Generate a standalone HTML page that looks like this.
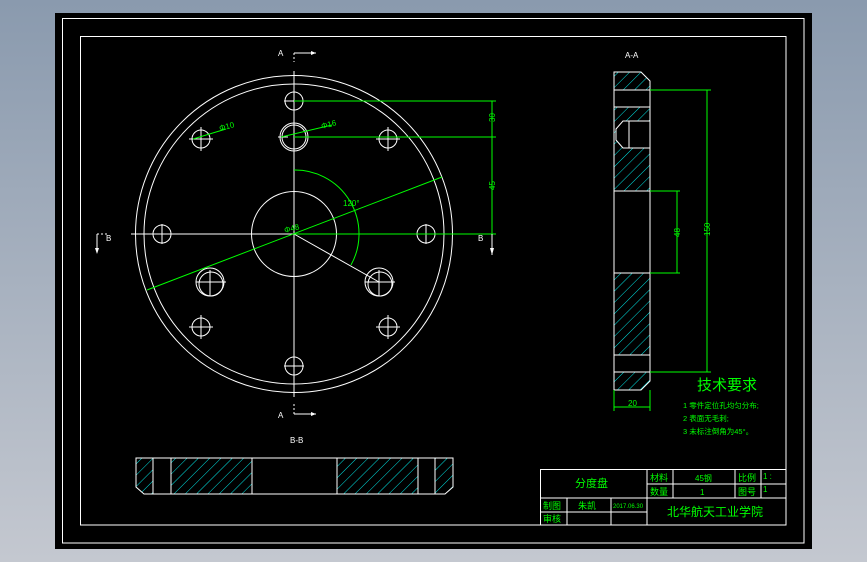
<!DOCTYPE html>
<html><head><meta charset="utf-8"><style>
html,body{margin:0;padding:0;width:867px;height:562px;overflow:hidden;background:linear-gradient(#8a9aae,#c4c8d0);}
svg{position:absolute;left:0;top:0}
text{font-family:"Liberation Sans","Noto Sans CJK SC",sans-serif;fill:#00ff00}
</style></head><body>
<svg width="867" height="562" viewBox="0 0 867 562">
<defs>
<pattern id="h" patternUnits="userSpaceOnUse" width="8" height="8" patternTransform="rotate(45)">
<rect width="8" height="8" fill="#000"/><line x1="0" y1="0" x2="0" y2="8" stroke="#00e5e5" stroke-width="1"/>
</pattern>
</defs>
<rect x="55" y="13" width="757" height="536" fill="#000"/>
<rect x="62.5" y="18.5" width="741.5" height="524.5" fill="none" stroke="#fff" stroke-width="1"/>
<rect x="80.5" y="36.5" width="705.5" height="488.5" fill="none" stroke="#fff" stroke-width="1"/>

<!-- main view -->
<g fill="none" stroke="#fff" stroke-width="1">
<circle cx="294" cy="234" r="158.5"/>
<circle cx="294" cy="234" r="150"/>
<circle cx="294" cy="234" r="42.5"/>
<line x1="294" y1="53" x2="294" y2="62" stroke-dasharray="2,2"/>
<line x1="294" y1="71" x2="294" y2="397"/>
<line x1="294" y1="404" x2="294" y2="414" stroke-dasharray="2,2"/>
<line x1="294" y1="53" x2="316" y2="53"/>
<line x1="294" y1="414" x2="316" y2="414"/>
<line x1="131" y1="234" x2="294" y2="234"/>
<line x1="97" y1="234" x2="107" y2="234" stroke-dasharray="2,2"/>
<line x1="97" y1="234" x2="97" y2="252"/>
<line x1="294" y1="234" x2="379" y2="282"/>
<g>
<circle cx="294" cy="101" r="9"/><circle cx="294" cy="366" r="9"/>
<circle cx="162" cy="234" r="9"/><circle cx="426" cy="234" r="9"/>
<circle cx="201" cy="139" r="9"/><circle cx="388" cy="139" r="9"/>
<circle cx="201" cy="327" r="9"/><circle cx="388" cy="327" r="9"/>
</g>
<path d="M284 101h20M162 224v20M152 234h10M416 234h20M426 224v20M294 356v20M284 366h20
M189 139h24M201 127v24M376 139h24M388 127v24M189 327h24M201 315v24M376 327h24M388 315v24"/>
<circle cx="294" cy="137" r="14"/><circle cx="294" cy="137" r="12"/>
<circle cx="210" cy="282" r="14"/><circle cx="211" cy="284" r="12"/>
<circle cx="379" cy="282" r="14"/><circle cx="380" cy="284" r="12"/>
<path d="M278 137h10M196 282h30M210 270v26M365 282h30M379 270v26"/>
</g>
<path d="M311 51l5 2l-5 2zM311 412l5 2l-5 2zM95 248l2 6l2-6z" fill="#fff"/>
<text x="278" y="56" font-size="8" style="fill:#fff">A</text>
<text x="278" y="418" font-size="8" style="fill:#fff">A</text>
<text x="106" y="241" font-size="8" style="fill:#fff">B</text>
<text x="290" y="443" font-size="8" style="fill:#fff">B-B</text>
<text x="625" y="58" font-size="8" style="fill:#fff">A-A</text>

<g fill="none" stroke="#00ff00" stroke-width="1">
<line x1="294" y1="101" x2="496" y2="101"/>
<line x1="294" y1="137" x2="496" y2="137"/>
<line x1="294" y1="234" x2="496" y2="234"/>
<line x1="492" y1="101" x2="492" y2="234"/>
<line x1="147" y1="290" x2="442" y2="177"/>
<path d="M294 170 A64 64 0 0 1 351 265"/>
<line x1="193" y1="139" x2="226" y2="129"/>
<line x1="281" y1="137" x2="332" y2="125"/>
</g>
<line x1="492" y1="234" x2="492" y2="255" stroke="#fff"/>
<path d="M490 248l2 7l2-7z" fill="#fff"/>
<text x="478" y="241" font-size="8" style="fill:#fff">B</text>
<text x="220" y="131" font-size="8" transform="rotate(-15 220 131)">Φ10</text>
<text x="322" y="129" font-size="8" transform="rotate(-15 322 129)">Φ16</text>
<text x="285" y="233" font-size="8" transform="rotate(-15 285 233)">Φ48</text>
<text x="343" y="206" font-size="8">120°</text>
<text x="495" y="122" font-size="8" transform="rotate(-90 495 122)">30</text>
<text x="495" y="190" font-size="8" transform="rotate(-90 495 190)">45</text>

<!-- side view -->
<g stroke="#fff" stroke-width="1">
<path d="M614 72 H641 L650 81 V90 H614Z" fill="url(#h)"/>
<path d="M614 107 H650 V191 H614Z" fill="url(#h)"/>
<path d="M614 273 H650 V355 H614Z" fill="url(#h)"/>
<path d="M614 372 H650 V381 L641 390 H614Z" fill="url(#h)"/>
<path d="M614 90 H650 V107 H614Z M614 191 H650 V273 H614Z M614 355 H650 V372 H614Z" fill="#000"/>
<path d="M623 121 H650 V148 H623 L616 140 V129Z" fill="#000"/>
<line x1="629" y1="121" x2="629" y2="148"/>
</g>
<g fill="none" stroke="#00ff00" stroke-width="1">
<path d="M650 90 H711 M650 372 H711 M707 90 V372"/>
<path d="M650 191 H680 M650 273 H680 M677 191 V273"/>
<path d="M614 390 V411 M650 390 V411 M614 407 H650"/>
</g>
<text x="710" y="236" font-size="8" transform="rotate(-90 710 236)">150</text>
<text x="680" y="237" font-size="8" transform="rotate(-90 680 237)">48</text>
<text x="628" y="406" font-size="8">20</text>

<text x="697" y="390" font-size="15">技术要求</text>
<text x="683" y="408" font-size="7.5">1 零件定位孔均匀分布;</text>
<text x="683" y="421" font-size="7.5">2 表面无毛刺;</text>
<text x="683" y="434" font-size="7.5">3 未标注倒角为45°。</text>

<!-- bottom view -->
<g stroke="#fff" stroke-width="1">
<path d="M136 458 H153 V494 H144 L136 487Z" fill="url(#h)"/>
<path d="M171 458 H252 V494 H171Z" fill="url(#h)"/>
<path d="M337 458 H418 V494 H337Z" fill="url(#h)"/>
<path d="M435 458 H453 V487 L445 494 H435Z" fill="url(#h)"/>
<path d="M153 458 H171 V494 H153Z M252 458 H337 V494 H252Z M418 458 H435 V494 H418Z" fill="#000"/>
</g>

<!-- title block -->
<g fill="none" stroke="#fff" stroke-width="1">
<rect x="540.5" y="469.5" width="245.5" height="55.5"/>
<path d="M647 469.5V525 M673 469.5V498 M735 469.5V498 M761 469.5V498 M647 484H786 M540.5 498H786 M567 498V525 M611 498V525 M540.5 512H647"/>
</g>
<text x="575" y="487" font-size="11">分度盘</text>
<text x="650" y="481" font-size="9">材料</text>
<text x="695" y="481" font-size="8">45钢</text>
<text x="738" y="481" font-size="9">比例</text>
<text x="763" y="479" font-size="8">1 :</text>
<text x="650" y="495" font-size="9">数量</text>
<text x="700" y="495" font-size="8">1</text>
<text x="738" y="495" font-size="9">图号</text>
<text x="763" y="492" font-size="8">1</text>
<text x="543" y="509" font-size="9">制图</text>
<text x="578" y="509" font-size="9">朱凯</text>
<text x="613" y="508" font-size="6">2017.06.30</text>
<text x="543" y="522" font-size="9">审核</text>
<text x="667" y="516" font-size="12">北华航天工业学院</text>
</svg>
</body></html>
